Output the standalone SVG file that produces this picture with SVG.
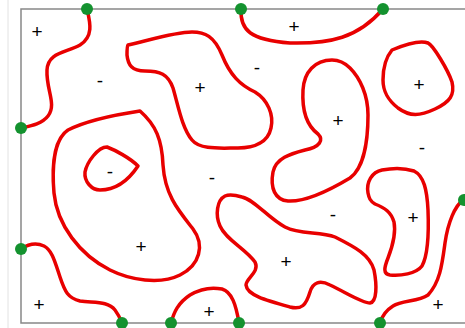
<svg xmlns="http://www.w3.org/2000/svg" width="465" height="328" viewBox="0 0 465 328">
<style>
.c{fill:none;stroke:#e80000;stroke-width:3.5;stroke-linecap:round;stroke-linejoin:round}
.d{fill:#14922f}
.t{font-family:"Liberation Sans",Arial,sans-serif;font-size:19px;fill:#000;text-anchor:middle}
</style>
<rect width="465" height="328" fill="#fff"/>
<line x1="8" y1="0" x2="8" y2="328" stroke="#e2e2e2" stroke-width="1"/>
<path d="M465,9 H21 V323 H465" fill="none" stroke="#888" stroke-width="1.5"/>
<g id="connectors">
<path class="c" d="M87,9 C90,22 94,36 80,45 C66,53 48,52 47,70 C46,90 57,104 48,116 C42,124 30,126 21,128"/>
<path class="c" d="M128,45 C150,40 175,32 192,32 C205,32 214,36 222,55 C230,75 240,85 255,92 C268,100 274,115 271,128 C268,142 255,148 238,148 C220,148 200,150 192,140 C182,128 178,105 173,88 C168,74 160,71 145,71 C132,71 128,65 127,55 C127,50 127,46 128,45 Z"/>
<path class="c" d="M241,9 C240,30 250,40 290,43 C330,44 358,38 383,9"/>
<path class="c" d="M332,60 C315,60 304,72 303,90 C302,108 306,125 318,134 C324,140 320,147 305,150 C290,154 276,158 273,172 C270,188 275,200 288,201 C305,202 330,190 350,178 C364,168 368,140 368,115 C368,95 360,78 350,68 C345,63 338,60 332,60 Z"/>
<path class="c" d="M392,50 C404,45 420,40 428,43 C433,45 448,70 452,82 C455,95 450,102 435,109 C420,116 410,117 398,108 C388,100 383,92 383,80 C383,65 387,56 392,50 Z"/>
<path class="c" d="M140,111 C120,114 88,120 68,130 C53,140 52,170 54,193 C57,225 80,255 110,270 C130,280 160,285 180,275 C200,265 205,245 193,229 C178,210 165,195 163,165 C162,140 156,125 140,111 Z"/>
<path class="c" d="M107,147 C115,150 130,158 138,166 C130,178 118,190 100,190 C92,190 84,182 85,172 C87,162 98,147 107,147 Z"/>
<path class="c" d="M225,196 C217,200 215,215 220,226 C226,240 245,248 255,262 C260,272 246,278 246,285 C247,295 265,300 290,307 C302,310 306,305 310,292 C313,282 320,280 330,285 C345,292 362,303 370,303 C377,302 377,285 374,270 C370,255 355,247 335,237 C320,231 300,235 285,227 C268,218 255,200 242,197 C235,195 230,194 225,196 Z"/>
<path class="c" d="M368,193 C366,182 372,172 382,170 C392,168 405,168 414,171 C424,176 427,190 428,210 C429,235 428,255 422,266 C416,274 400,276 390,275 C383,274 384,268 388,258 C393,245 396,232 394,222 C391,212 385,208 375,204 C370,201 369,198 368,193 Z"/>
<path class="c" d="M463,200 C455,206 448,222 445,243 C442,265 440,282 428,295 C418,302 402,300 393,306 C385,311 382,316 380,323"/>
<path class="c" d="M21,249 C27,245 35,242 44,246 C52,250 55,262 60,277 C65,292 68,298 80,301 C95,303 108,301 115,310 C118,314 120,318 122,323"/>
<path class="c" d="M171,323 C174,312 178,303 190,295 C200,289 212,287 222,289 C232,292 236,305 239,323"/>
</g>
<g id="nodes">
<circle id="n1" class="d" cx="87" cy="9" r="6"/>
<circle id="n2" class="d" cx="241" cy="9" r="6"/>
<circle id="n3" class="d" cx="383" cy="9" r="6"/>
<circle id="n4" class="d" cx="21" cy="128" r="6"/>
<circle id="n5" class="d" cx="21" cy="249" r="6"/>
<circle id="n6" class="d" cx="122" cy="323" r="6"/>
<circle id="n7" class="d" cx="171" cy="323" r="6"/>
<circle id="n8" class="d" cx="239" cy="323" r="6"/>
<circle id="n9" class="d" cx="380" cy="323" r="6"/>
<circle id="n10" class="d" cx="464" cy="200" r="6"/>
</g>
<g id="labels">
<text class="t" x="37" y="38">+</text>
<text class="t" x="100" y="87">-</text>
<text class="t" x="200" y="94">+</text>
<text class="t" x="257" y="74">-</text>
<text class="t" x="294" y="33">+</text>
<text class="t" x="338" y="127">+</text>
<text class="t" x="419" y="91">+</text>
<text class="t" x="422" y="154">-</text>
<text class="t" x="110" y="178">-</text>
<text class="t" x="212" y="184">-</text>
<text class="t" x="141" y="253">+</text>
<text class="t" x="333" y="221">-</text>
<text class="t" x="413" y="224">+</text>
<text class="t" x="286" y="268">+</text>
<text class="t" x="39" y="311">+</text>
<text class="t" x="209" y="318">+</text>
<text class="t" x="438" y="311">+</text>
</g>
</svg>
